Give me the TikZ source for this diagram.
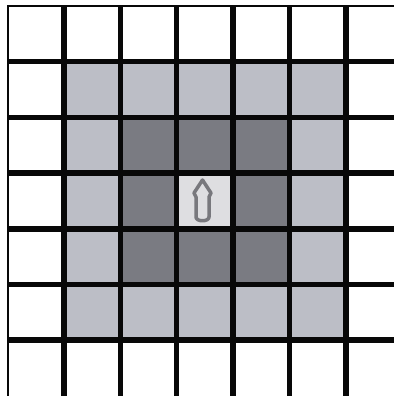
\documentclass[tikz,border=0pt]{standalone}
\definecolor{lightcell}{RGB}{188,190,198}
\definecolor{darkcell}{RGB}{122,123,130}
\definecolor{centercell}{RGB}{222,222,225}
\definecolor{gridline}{RGB}{8,8,8}
\definecolor{arrowgray}{RGB}{120,120,125}
\begin{document}
\begin{tikzpicture}[x=1pt,y=-1pt,
  thickline/.style={draw=gridline,line width=5.5pt},
  thinline/.style={draw=gridline,line width=2pt},
  marker/.style={draw=arrowgray,line width=3.5pt,line join=round}]
\useasboundingbox (0,0) rectangle (394,396);
\fill[white] (0,0) rectangle (394,396);
\fill[lightcell] (63.9,61.7) rectangle (345.9,340.2);
\fill[darkcell] (120.3,117.4) rectangle (289.5,284.5);
\fill[centercell] (176.7,173.1) rectangle (233.1,228.8);
\foreach \i in {1,...,6} {
  \draw[thickline] ({7.5+56.4*\i},6) -- ({7.5+56.4*\i},396);
  \draw[thickline] (7.5,{6+55.7*\i}) -- (394,{6+55.7*\i});
}
\draw[thinline] (7.5,396) -- (7.5,6) -- (394,6);
\draw[marker] (202.5,180) -- (194,193) -- (196,197) -- (196,217)
  .. controls (196,222) and (209,222) .. (209,217)
  -- (209,197) -- (211,193) -- cycle;
\end{tikzpicture}
\end{document}
